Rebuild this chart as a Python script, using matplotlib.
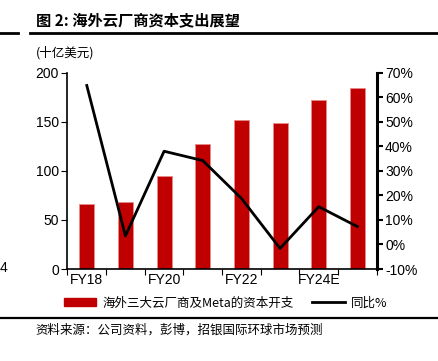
import matplotlib.pyplot as plt
from matplotlib.lines import Line2D
from matplotlib.patches import Patch

plt.rcParams['font.family'] = ['Liberation Sans', 'Noto Sans CJK SC', 'DejaVu Sans']

years = ['FY18', 'FY19', 'FY20', 'FY21', 'FY22', 'FY23', 'FY24E', 'FY25E']
capex = [66, 68.5, 95, 127, 151.5, 149, 172, 184.5]
yoy = [64.8, 3.5, 38.0, 34.2, 18.8, -1.6, 15.4, 7.3]
tick_labels = ['FY18', '', 'FY20', '', 'FY22', '', 'FY24E', '']

cjk = ['Noto Sans CJK SC', 'DejaVu Sans']
red = '#C00000'

fig = plt.figure(figsize=(4.38, 3.61), dpi=100)
ax = fig.add_axes([0.154, 0.2548, 0.706, 0.5438])
ax2 = ax.twinx()

x = list(range(len(years)))
ax.bar(x, capex, width=0.39, color=red, edgecolor='#e88a8a', linewidth=0.6, zorder=2)
ax2.plot(x, yoy, color='black', lw=2, zorder=3)

ax.set_xlim(-0.5, 7.5)
ax.set_ylim(0, 200)
ax.set_yticks([0, 50, 100, 150, 200])
ax2.set_ylim(-10, 70)
ax2.set_yticks(range(-10, 71, 10))
ax2.set_yticklabels([f'{v}%' for v in range(-10, 71, 10)])

ax.set_xticks([i - 0.5 for i in range(9)])
ax.set_xticklabels([''] * 9)
ax.set_xticks(x, minor=True)
ax.set_xticklabels(tick_labels, minor=True)
ax.tick_params(axis='x', which='minor', length=0, pad=3)
ax.tick_params(axis='x', which='major', length=4, direction='out')
ax.tick_params(axis='y', length=4, direction='out', labelsize=10, pad=2)
ax.tick_params(axis='x', labelsize=10)
ax2.tick_params(axis='y', length=4, width=1.5, direction='out', labelsize=10, pad=2)

for a in (ax, ax2):
    a.spines['top'].set_visible(False)
ax.spines['right'].set_visible(False)
ax2.spines['left'].set_visible(False)
ax2.spines['right'].set_linewidth(2.2)
ax.spines['left'].set_linewidth(1.2)
ax.spines['bottom'].set_linewidth(1.2)
ax2.spines['bottom'].set_visible(False)

# title and rules
fig.text(36 / 438, 1 - 20 / 361, '图 2: 海外云厂商资本支出展望', family=cjk,
         fontsize=11, fontweight='bold', va='center', ha='left')
fig.add_artist(Line2D([30 / 438, 1], [1 - 33 / 361] * 2, color='black', lw=2))
fig.add_artist(Line2D([0, 18 / 438], [1 - 33 / 361] * 2, color='black', lw=2))
fig.text(36 / 438, 1 - 53 / 361, '(十亿美元)', family=cjk, fontsize=9,
         va='center', ha='left')
fig.text(0, 1 - 268 / 361, '4', fontsize=10, va='center', ha='left')

handles = [Patch(color=red), Line2D([], [], color='black', lw=2)]
labels = ['海外三大云厂商及Meta的资本开支', '同比%']
leg = fig.legend(handles, labels, loc='center', bbox_to_anchor=(0.515, 1 - 303 / 361),
                 ncol=2, frameon=False, prop={'family': cjk, 'size': 9},
                 handlelength=2.6, handleheight=0.6, columnspacing=1.5, handletextpad=0.5)

fig.add_artist(Line2D([0, 1], [1 - 318 / 361] * 2, color='black', lw=1.6))
fig.text(35 / 438, 1 - 330 / 361, '资料来源：公司资料，彭博，招银国际环球市场预测',
         family=cjk, fontsize=9, va='center', ha='left')

fig.savefig('out.png', dpi=100)
